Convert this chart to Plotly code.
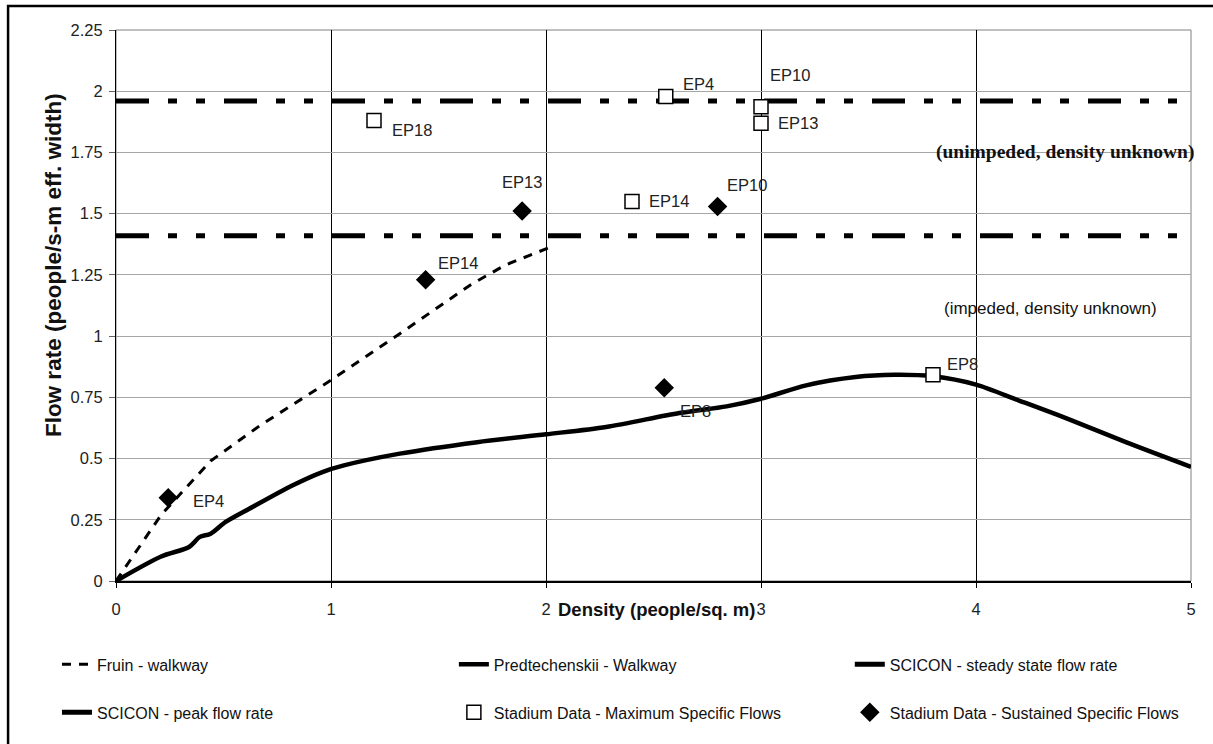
import plotly.graph_objects as go

# ---------------- data ----------------
fruin_x = [0, 0.21, 0.44, 0.67, 1.0, 1.32, 1.65, 1.81, 2.04]
fruin_y = [0, 0.27, 0.49, 0.635, 0.82, 1.01, 1.21, 1.29, 1.37]

pred_x = [0, 0.21, 0.34, 0.39, 0.44, 0.51, 0.62, 0.82, 0.96, 1.06, 1.32, 1.68, 2.0,
          2.28, 2.62, 2.84, 3.0, 3.21, 3.44, 3.62, 3.80, 4.0, 4.2, 4.43, 4.70, 5.0]
pred_y = [0, 0.10, 0.139, 0.18, 0.193, 0.241, 0.295, 0.39, 0.445, 0.472, 0.52, 0.567, 0.599,
          0.629, 0.686, 0.713, 0.744, 0.799, 0.833, 0.842, 0.836, 0.802, 0.737, 0.661, 0.566, 0.466]

scicon_x = [0, 5]
scicon_steady = 1.41
scicon_peak = 1.96

max_labels = ["EP18", "EP4", "EP10", "EP13", "EP14", "EP8"]
max_x = [1.20, 2.557, 3.0, 3.0, 2.40, 3.80]
max_y = [1.88, 1.978, 1.937, 1.869, 1.55, 0.842]

sus_labels = ["EP4", "EP14", "EP13", "EP10", "EP8"]
sus_x = [0.243, 1.44, 1.889, 2.798, 2.55]
sus_y = [0.34, 1.23, 1.511, 1.529, 0.789]

y_ticks = [0, 0.25, 0.5, 0.75, 1, 1.25, 1.5, 1.75, 2, 2.25]
y_ticktext = ["0", "0.25", "0.5", "0.75", "1", "1.25", "1.5", "1.75", "2", "2.25"]
x_ticks = [0, 1, 2, 3, 4, 5]

names = ["Fruin - walkway", "Predtechenskii - Walkway", "SCICON - steady state flow rate",
         "SCICON - peak flow rate", "Stadium Data - Maximum Specific Flows",
         "Stadium Data - Sustained Specific Flows"]

# ---------------- style ----------------
SANS = "Liberation Sans Narrow, Arial Narrow, Liberation Sans, Arial, sans-serif"
SERIF = "Liberation Serif, Times New Roman, serif"

# label offsets (px) and anchors, style only
max_off = [(16, 9, "left"), (15, -13, "left"), (7, -32, "left"), (15, 0, "left"), (15, 0, "left"), (12, -11, "left")]
sus_off = [(23, 3, "left"), (10, -17, "left"), (0, -29, "center"), (7, -22, "left"), (14, 23, "left")]

fig = go.Figure()

fig.add_trace(go.Scatter(x=fruin_x, y=fruin_y, mode="lines", name=names[0],
                         line=dict(color="black", width=3, dash="9px,8px"), legend="legend"))
fig.add_trace(go.Scatter(x=pred_x, y=pred_y, mode="lines", name=names[1],
                         line=dict(color="black", width=4.5, shape="spline", smoothing=0.8), legend="legend2"))
dashpat = "33px,19px,9px,19px,9px,19px"
fig.add_trace(go.Scatter(x=scicon_x, y=[scicon_steady] * len(scicon_x), mode="lines", name=names[2],
                         line=dict(color="black", width=5, dash=dashpat), legend="legend3"))
fig.add_trace(go.Scatter(x=scicon_x, y=[scicon_peak] * len(scicon_x), mode="lines", name=names[3],
                         line=dict(color="black", width=5, dash=dashpat), legend="legend4"))
fig.add_trace(go.Scatter(x=max_x, y=max_y, mode="markers", name=names[4],
                         marker=dict(symbol="square", size=14, color="white", line=dict(color="black", width=1.5)),
                         legend="legend5"))
fig.add_trace(go.Scatter(x=sus_x, y=sus_y, mode="markers", name=names[5],
                         marker=dict(symbol="diamond", size=15, color="black", line=dict(color="black", width=0)),
                         legend="legend6"))

ann = []
for lab, x, y, (dx, dy, anc) in zip(max_labels, max_x, max_y, max_off):
    ann.append(dict(x=x, y=y, xref="x", yref="y", text=lab, showarrow=False, xanchor=anc, yanchor="middle",
                    xshift=dx, yshift=-dy, font=dict(family=SANS, size=16.5, color="#222")))
for lab, x, y, (dx, dy, anc) in zip(sus_labels, sus_x, sus_y, sus_off):
    ann.append(dict(x=x, y=y, xref="x", yref="y", text=lab, showarrow=False, xanchor=anc, yanchor="middle",
                    xshift=dx, yshift=-dy, font=dict(family=SANS, size=16.5, color="#222")))

ann.append(dict(x=1.0044, y=0.779, xref="paper", yref="paper", text="<b>(unimpeded, density unknown)</b>",
                showarrow=False, xanchor="right", yanchor="middle", font=dict(family=SERIF, size=19.5, color="#111")))
ann.append(dict(x=0.8695, y=0.4952, xref="paper", yref="paper", text="(impeded, density unknown)",
                showarrow=False, xanchor="center", yanchor="middle", font=dict(family=SANS, size=17, color="#111")))
ann.append(dict(x=-0.0586, y=0.5733, xref="paper", yref="paper", text="<b>Flow rate (people/s-m eff. width)</b>",
                showarrow=False, textangle=-90, xanchor="center", yanchor="middle",
                font=dict(family=SANS, size=22.5, color="#111")))
ann.append(dict(x=0.503, y=-0.0514, xref="paper", yref="paper", text="<b>Density (people/sq. m)</b>",
                showarrow=False, xanchor="center", yanchor="middle", font=dict(family=SANS, size=18.5, color="#111")))

shapes = [
    dict(type="rect", xref="paper", yref="paper", x0=0, x1=1, y0=0, y1=1,
         line=dict(color="#808080", width=1), layer="below"),
    dict(type="rect", xref="paper", yref="paper", x0=-0.1004, x1=1.06, y0=-0.32, y1=1.0436,
         line=dict(color="black", width=2.5)),
]

legend_common = dict(orientation="v", xanchor="left", yanchor="middle", bgcolor="rgba(0,0,0,0)",
                     font=dict(family=SANS, size=16, color="#111"), borderwidth=0)
col_x = [-0.0549, 0.3143, 0.6826]
row_y = [-0.1513, -0.2384]
legs = {}
keys = ["legend", "legend2", "legend3", "legend4", "legend5", "legend6"]
for i, k in enumerate(keys):
    legs[k] = dict(legend_common, x=col_x[i % 3], y=row_y[i // 3])

fig.update_layout(
    width=1213, height=744,
    margin=dict(l=116, r=22, t=30, b=163, autoexpand=False),
    paper_bgcolor="white", plot_bgcolor="white",
    showlegend=True,
    font=dict(family=SANS, size=16, color="#111"),
    xaxis=dict(range=[0, 5], tickvals=x_ticks, showgrid=True, gridcolor="black", gridwidth=1,
               zeroline=False, showline=True, linecolor="black", linewidth=2,
               ticks="outside", ticklen=5, tickcolor="black", ticklabelstandoff=7,
               tickfont=dict(family=SANS, size=16.5, color="#222")),
    yaxis=dict(range=[0, 2.25], tickvals=y_ticks, ticktext=y_ticktext, showgrid=True, gridcolor="#a6a6a6",
               gridwidth=1, zeroline=False, showline=True, linecolor="black", linewidth=1,
               ticks="outside", ticklen=6, tickcolor="#666", ticklabelstandoff=3,
               tickfont=dict(family=SANS, size=16.5, color="#222")),
    annotations=ann,
    shapes=shapes,
    **legs,
)

fig.write_html("out.html", config={"displayModeBar": False},
               post_script="document.body.style.margin='0';")
